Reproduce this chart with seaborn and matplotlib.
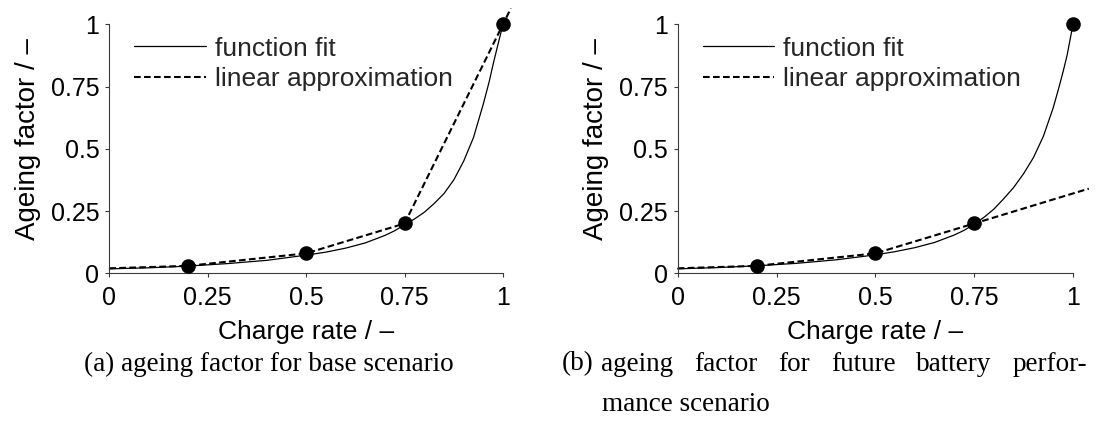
import matplotlib
matplotlib.use("Agg")
import matplotlib.pyplot as plt
import pandas as pd
import seaborn as sns

# Measured ageing factor at each charge rate
charge_rate = [0.2, 0.5, 0.75, 1.0]
ageing_factor = [0.03, 0.08, 0.2, 1.0]

# Piecewise-linear approximation, base scenario
lin_base_x = [0.0, 0.2, 0.5, 0.75, 1.0, 1.02]
lin_base_y = [0.02, 0.03, 0.08, 0.2, 1.0, 1.064]

# Piecewise-linear approximation, future battery performance scenario
lin_future_x = [0.0, 0.2, 0.5, 0.75, 1.04]
lin_future_y = [0.02, 0.03, 0.08, 0.2, 0.34]

# Fitted ageing curve, base scenario
fit_base_x = [0.0, 0.1, 0.2, 0.3, 0.4, 0.5, 0.55, 0.6, 0.65, 0.7, 0.725, 0.75,
              0.775, 0.8, 0.825, 0.85, 0.875, 0.9, 0.925, 0.95, 0.965, 0.975,
              0.985, 1.0]
fit_base_y = [0.018, 0.022, 0.029, 0.039, 0.052, 0.073, 0.085, 0.101, 0.122,
              0.152, 0.171, 0.195, 0.218, 0.245, 0.28, 0.32, 0.375, 0.45,
              0.545, 0.68, 0.77, 0.84, 0.905, 1.0]

# Fitted ageing curve, future battery performance scenario
fit_future_x = [0.0, 0.1, 0.2, 0.3, 0.4, 0.5, 0.55, 0.6, 0.65, 0.7, 0.725,
                0.75, 0.775, 0.8, 0.825, 0.85, 0.875, 0.9, 0.925, 0.95, 0.965,
                0.975, 0.985, 1.0]
fit_future_y = [0.018, 0.023, 0.030, 0.040, 0.054, 0.074, 0.087, 0.103, 0.124,
                0.154, 0.173, 0.197, 0.225, 0.258, 0.30, 0.345, 0.40, 0.465,
                0.55, 0.665, 0.75, 0.81, 0.875, 1.0]

tick_values = [0, 0.25, 0.5, 0.75, 1]
tick_labels = ["0", "0.25", "0.5", "0.75", "1"]

x_label = "Charge rate / \u2013"
y_label = "Ageing factor / \u2013"
legend_labels = ["function fit", "linear approximation"]
caption_a = "(a) ageing factor for base scenario"
caption_b_tag = "(b)"
caption_b_line1 = "ageing factor for future battery perfor-"
caption_b_line2 = "mance scenario"

sns.set_theme(style="ticks")
plt.rcParams["font.family"] = ["Liberation Sans", "DejaVu Sans"]

W, H = 1118, 423
fig = plt.figure(figsize=(W / 100, H / 100), dpi=100)

axes_px = [(109.3, 503.0), (677.7, 1073.0)]
y_top_px, y_bot_px = 24.3, 273.3

panels = [
    (fit_base_x, fit_base_y, lin_base_x, lin_base_y),
    (fit_future_x, fit_future_y, lin_future_x, lin_future_y),
]

spine_col = "#3a3a3a"
for (x0, x1), (fx, fy, lx, ly) in zip(axes_px, panels):
    ax = fig.add_axes([x0 / W, 1 - y_bot_px / H, (x1 - x0) / W,
                       (y_bot_px - y_top_px) / H])
    fit_df = pd.DataFrame({"x": fx, "y": fy})
    lin_df = pd.DataFrame({"x": lx, "y": ly})
    pts_df = pd.DataFrame({"x": charge_rate, "y": ageing_factor})

    sns.lineplot(data=fit_df, x="x", y="y", ax=ax, color="black", lw=0.9,
                 sort=False, estimator=None, label=legend_labels[0],
                 clip_on=False)
    sns.lineplot(data=lin_df, x="x", y="y", ax=ax, color="black", lw=1.5,
                 sort=False, estimator=None, label=legend_labels[1],
                 clip_on=False, dashes=False, linestyle=(0, (3.2, 1.6)))
    sns.scatterplot(data=pts_df, x="x", y="y", ax=ax, color="black", s=110,
                    edgecolor="black", linewidth=0, zorder=5, clip_on=False,
                    legend=False)

    ax.set_xlim(0, 1)
    ax.set_ylim(0, 1)
    ax.set_xticks(tick_values)
    ax.set_xticklabels(tick_labels)
    ax.set_yticks(tick_values)
    ax.set_yticklabels(tick_labels)
    ax.tick_params(axis="both", direction="out", length=3.2, width=0.8,
                   color=spine_col, labelsize=18, labelcolor="black")
    ax.tick_params(axis="x", pad=6)
    ax.tick_params(axis="y", pad=4)
    ax.set_xlabel(x_label, fontsize=19, labelpad=7, color="black")
    ax.set_ylabel(y_label, fontsize=20, color="black")
    ax.yaxis.set_label_coords(-0.174, 0.54)
    for side in ("top", "right"):
        ax.spines[side].set_visible(False)
    for side in ("left", "bottom"):
        ax.spines[side].set_color(spine_col)
        ax.spines[side].set_linewidth(0.8)
    ax.set_facecolor("none")

    ax.legend(loc="upper left", bbox_to_anchor=(0.064, 0.951), frameon=False,
              fontsize=19, handlelength=2.7, handletextpad=0.34,
              labelspacing=0.26, borderaxespad=0, borderpad=0)

# Sub-figure captions
cap_font = dict(family="Liberation Serif", fontsize=19.5, color="black",
                va="center")
line1_y, line2_y = 364.0, 404.0
fig.text(269.0 / W, 1 - line1_y / H, caption_a, ha="center", **cap_font)

# Panel (b): tag, justified first line, second line under the text
fig.canvas.draw()
renderer = fig.canvas.get_renderer()
text_start, x_end = 601.5, 1087.0
tag = fig.text(0, 0, caption_b_tag, ha="left", **cap_font)
tag_w = tag.get_window_extent(renderer).width
tag.set_position(((text_start - tag_w - 8.0) / W, 1 - line1_y / H))

words = caption_b_line1.split()
items = [fig.text(0, 0, w, ha="left", **cap_font) for w in words]
widths = [t.get_window_extent(renderer).width for t in items]
gap = (x_end - text_start - sum(widths)) / (len(words) - 1)
xpos = text_start
for t, w in zip(items, widths):
    t.set_position((xpos / W, 1 - line1_y / H))
    xpos += w + gap
fig.text(text_start / W, 1 - line2_y / H, caption_b_line2, ha="left",
         **cap_font)

fig.savefig("out.png", dpi=100)
